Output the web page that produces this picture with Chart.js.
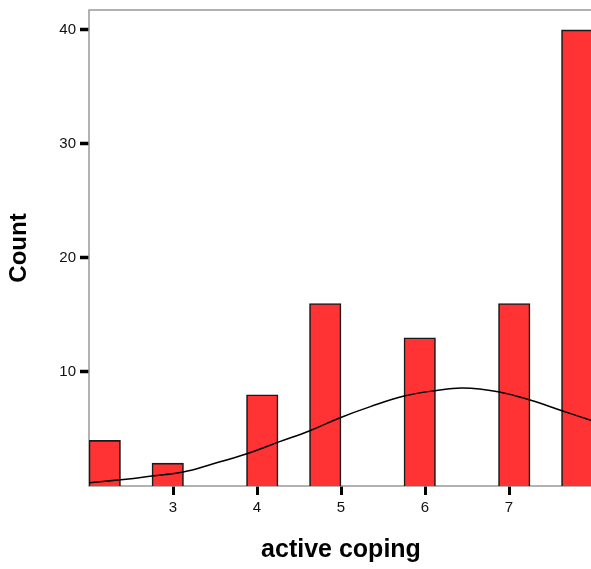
<!DOCTYPE html>
<html>
<head>
<meta charset="utf-8">
<script src="https://cdn.jsdelivr.net/npm/chart.js@4"></script>
<style>
html, body { margin: 0; padding: 0; overflow: hidden; background: #fff; }
</style>
</head>
<body>
<canvas id="hist" width="593" height="569"></canvas>
<script>
// histogram bins (start of each bin, width 0.375)
var binStarts = ['2.000', '2.375', '2.750', '3.125', '3.500', '3.875', '4.250', '4.625',
                 '5.000', '5.375', '5.750', '6.125', '6.500', '6.875', '7.250', '7.625'];
var counts = [4, 0, 2, 0, 0, 8, 0, 16, 0, 0, 13, 0, 0, 16, 0, 40];

// normal curve
var curveX = [2.0, 2.44, 2.75, 3.12, 3.47, 3.87, 4.27, 4.63, 4.99, 5.35, 5.75, 6.12, 6.45, 6.87, 7.25, 7.63, 8.0];
var curveY = [0.29, 0.59, 0.88, 1.23, 1.93, 2.81, 3.89, 4.85, 5.99, 6.96, 7.89, 8.36, 8.6, 8.27, 7.54, 6.6, 5.7];

var xTicks = [3, 4, 5, 6, 7];
var yTicks = [10, 20, 30, 40];

var curvePoints = curveX.map(function(x, i) { return { x: x, y: curveY[i] }; });

var framePlugin = {
    id: 'frame',
    beforeDatasetsDraw: function(chart) {
        var a = chart.chartArea, c = chart.ctx;
        c.save();
        c.strokeStyle = '#999';
        c.lineWidth = 1.5;
        c.strokeRect(a.left, a.top, a.right - a.left, a.bottom - a.top);
        c.restore();
    }
};

Chart.defaults.font.family = '"Liberation Sans", Arial, sans-serif';
Chart.defaults.color = '#000';

var ctx = document.getElementById('hist');
var histChart = new Chart(ctx, {
    type: 'bar',
    plugins: [framePlugin],
    data: {
        labels: binStarts,
        datasets: [
            {
                type: 'line',
                xAxisID: 'x2',
                yAxisID: 'y',
                data: curvePoints,
                borderColor: '#000',
                borderWidth: 1.5,
                pointRadius: 0,
                tension: 0.4,
                grouped: false,
                order: 0
            },
            {
                type: 'bar',
                xAxisID: 'x',
                yAxisID: 'y',
                data: counts,
                backgroundColor: '#ff3333',
                borderColor: '#1a1a1a',
                borderWidth: 1.6,
                barPercentage: 1,
                categoryPercentage: 1,
                grouped: false,
                order: 1
            }
        ]
    },
    options: {
        responsive: false,
        animation: false,
        layout: { padding: { top: 10, left: 0, right: 0, bottom: 0 } },
        plugins: { legend: { display: false }, tooltip: { enabled: false } },
        scales: {
            x: {
                display: false
            },
            x2: {
                type: 'linear',
                position: 'bottom',
                min: 2,
                max: 8,
                offset: false,
                ticks: { stepSize: 1, font: { size: 15 }, padding: 4, color: '#111' },
                grid: { offset: false, drawOnChartArea: false, tickLength: 9, tickWidth: 3, tickColor: '#000' },
                border: { display: false },
                title: {
                    display: true,
                    text: 'active coping',
                    font: { size: 25, weight: 'bold' },
                    padding: { top: 0, bottom: 4 }
                },
                afterBuildTicks: function(s) {
                    s.ticks = s.ticks.filter(function(t) { return xTicks.indexOf(t.value) >= 0; });
                },
                afterFit: function(s) { s.height = 83; s.paddingLeft = 0; s.paddingRight = 0; }
            },
            y: {
                min: 0,
                max: 41.75,
                ticks: { stepSize: 10, font: { size: 15 }, padding: 4, color: '#111' },
                grid: { drawOnChartArea: false, tickLength: 9, tickWidth: 3.5, tickColor: '#000' },
                border: { display: false },
                title: {
                    display: true,
                    text: 'Count',
                    font: { size: 24, weight: 'bold' },
                    padding: { top: 5, bottom: 0 }
                },
                afterBuildTicks: function(s) {
                    s.ticks = s.ticks.filter(function(t) { return yTicks.indexOf(t.value) >= 0; });
                },
                afterFit: function(s) { s.width = 89; s.paddingTop = 0; s.paddingBottom = 0; }
            }
        }
    }
});
</script>
</body>
</html>
